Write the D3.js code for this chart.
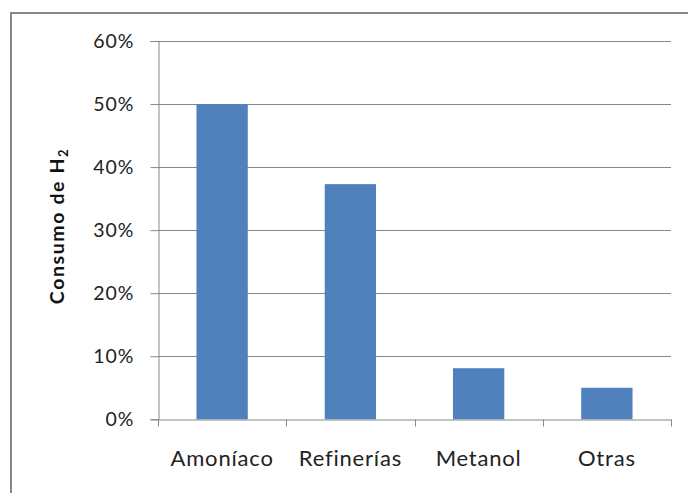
<!DOCTYPE html>
<html><head><meta charset="utf-8">
<script src="https://cdn.jsdelivr.net/npm/d3@7"></script>
<style>body{margin:0;background:#fff;} svg{display:block;}</style>
</head><body>
<svg id="c" width="688" height="493"></svg>
<script>
const categories = ["Amoníaco", "Refinerías", "Metanol", "Otras"];
const values = [0.50, 0.373, 0.081, 0.05];
const yTicks = [0, 0.1, 0.2, 0.3, 0.4, 0.5, 0.6];
const yTitle = "Consumo de H";
const yTitleSub = "2";

const svg = d3.select("#c");
const font = "Lato, 'Open Sans', sans-serif";
const margin = {left:158, top:41, right:688-671, bottom:493-419.3};
const W = 688, H = 493;

// frame
svg.append("path").attr("d", `M11,${H+5} L11,13 L${W+5},13`).attr("fill","none").attr("stroke","#868686").attr("stroke-width",2);

const x = d3.scaleBand().domain(categories).range([margin.left, W - margin.right]).paddingInner(0.6).paddingOuter(0.3);
const xb = d3.scaleBand().domain(categories).range([margin.left, W - margin.right]);
const y = d3.scaleLinear().domain([0, 0.6]).range([H - margin.bottom, margin.top]);

// gridlines
svg.append("g").selectAll("line").data(yTicks.filter(d=>d>0)).join("line")
  .attr("x1", margin.left).attr("x2", W - margin.right)
  .attr("y1", d=>Math.round(y(d))+0.5).attr("y2", d=>Math.round(y(d))+0.5)
  .attr("stroke","#868686").attr("stroke-width",1);

// bars
svg.append("g").selectAll("rect").data(categories).join("rect")
  .attr("x", d=>x(d)).attr("width", x.bandwidth())
  .attr("y", (d,i)=>y(values[i])).attr("height", (d,i)=>y(0)-y(values[i]))
  .attr("fill","#4F81BD");

// y axis
const yAxis = d3.axisLeft(y).tickValues(yTicks).tickFormat(d3.format(".0%")).tickSizeOuter(0).tickSize(8).tickPadding(16);
const gy = svg.append("g").attr("transform", `translate(${margin.left+0.5},0)`).call(yAxis);
gy.select(".domain").attr("stroke","#868686");
gy.selectAll(".tick line").attr("stroke","#868686");
gy.selectAll(".tick text").attr("font-family",font).attr("font-size",19.5).attr("letter-spacing","1px").attr("fill","#222");

// x axis
const xAxis = d3.axisBottom(xb).tickSize(0).tickSizeOuter(0).tickPadding(31);
const gx = svg.append("g").attr("transform", `translate(0,${Math.round(y(0))+0.5})`).call(xAxis);
gx.select(".domain").attr("stroke","#868686");
gx.selectAll(".tick text").attr("font-family",font).attr("font-size",22).attr("letter-spacing","0.8px").attr("fill","#222");
// category separator ticks
const seps = categories.map(c=>xb(c)).concat([W - margin.right]);
gx.append("g").selectAll("line").data(seps).join("line")
  .attr("x1", d=>Math.round(d)+0.5).attr("x2", d=>Math.round(d)+0.5).attr("y1",0).attr("y2",7)
  .attr("stroke","#868686");

// y title
const t = svg.append("text").attr("transform", `translate(64,226) rotate(-90)`)
  .attr("text-anchor","middle").attr("font-family",font).attr("font-weight","bold").attr("font-size",19.5).attr("letter-spacing","1.6px").attr("fill","#111");
t.append("tspan").text(yTitle);
t.append("tspan").text(yTitleSub).attr("font-size",13).attr("dy",4);
</script>
</body></html>
